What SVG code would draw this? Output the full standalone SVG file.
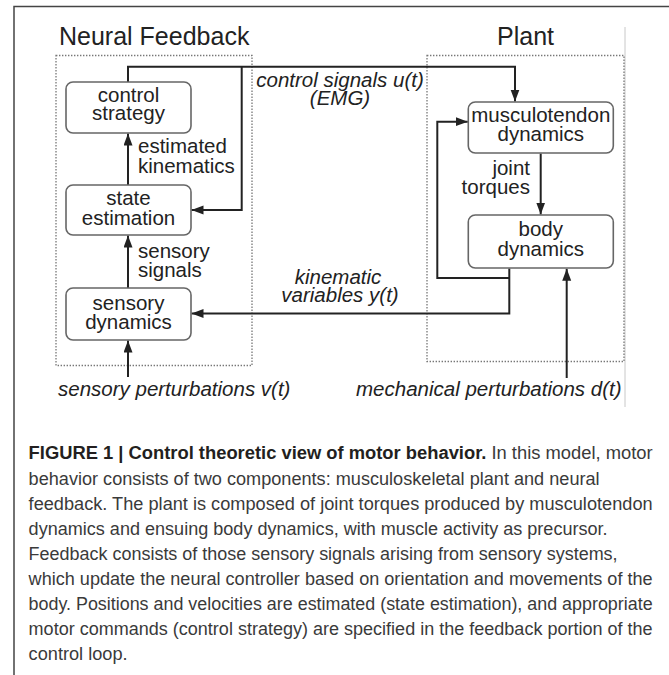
<svg xmlns="http://www.w3.org/2000/svg" width="669" height="675" viewBox="0 0 669 675">
  <style>
    .lbl { font-family: "Liberation Sans", Arial, Helvetica, sans-serif; font-size: 20.5px; fill: #222; }
    .c { text-anchor: middle; }
    .it { font-style: italic; }
    .title { font-family: "Liberation Sans", Arial, Helvetica, sans-serif; font-size: 25px; fill: #222; }
    .box { fill: #fff; stroke: #666; stroke-width: 1.6; }
    .dot { fill: none; stroke: #777; stroke-width: 1.3; stroke-dasharray: 1.4 1.6; }
    .wire { fill: none; stroke: #222; stroke-width: 2; }
    .cap { font-family: "Liberation Sans", Arial, Helvetica, sans-serif; font-size: 17.5px; fill: #3a3a3a; }
    .capb { font-weight: bold; fill: #231f20; }
  </style>
  <defs>
    <marker id="ah" markerUnits="userSpaceOnUse" markerWidth="13" markerHeight="10" refX="12" refY="4.5" orient="auto">
      <path d="M0,0 L12,4.5 L0,9 z" fill="#222"/>
    </marker>
  </defs>
  <rect x="0" y="0" width="669" height="675" fill="#fff"/>
  <g id="frame">
    <path d="M669,6.5 H14 V675" fill="none" stroke="#444" stroke-width="1.5"/>
    <line x1="625" y1="27" x2="625" y2="407" stroke="#c8c8c8" stroke-width="1"/>
  </g>
  <g id="group-neural">
    <rect class="dot" x="56" y="55.5" width="196" height="310"/>
    <text class="title" x="59" y="45">Neural Feedback</text>
  </g>
  <g id="group-plant">
    <rect class="dot" x="427" y="55.5" width="197" height="306"/>
    <text class="title" x="497" y="45">Plant</text>
  </g>
  <g id="connectors">
    <path class="wire" d="M128,82 V66.7 H515 V101.5" marker-end="url(#ah)"/>
    <path class="wire" d="M241.7,66.7 V210 H191.5" marker-end="url(#ah)"/>
    <path class="wire" d="M128,185 V133.5" marker-end="url(#ah)"/>
    <path class="wire" d="M128,288 V235.5" marker-end="url(#ah)"/>
    <path class="wire" d="M128,377 V340.5" marker-end="url(#ah)"/>
    <path class="wire" d="M540.7,153.5 V214.5" marker-end="url(#ah)"/>
    <path class="wire" d="M509.3,268.5 V313.5 H191.5" marker-end="url(#ah)"/>
    <path class="wire" d="M509.3,278 H437.3 V121.7 H467.8" marker-end="url(#ah)"/>
    <path class="wire" d="M566.7,378 V268.8" marker-end="url(#ah)"/>
  </g>
  <g id="edge-labels">
    <text class="lbl" x="138" y="153">estimated</text>
    <text class="lbl" x="138" y="173">kinematics</text>
    <text class="lbl" x="138" y="258">sensory</text>
    <text class="lbl" x="138" y="277">signals</text>
    <text class="lbl" x="530" y="175" text-anchor="end">joint</text>
    <text class="lbl" x="530" y="193.5" text-anchor="end">torques</text>
    <text class="lbl it c" x="340" y="86.7">control signals u(t)</text>
    <text class="lbl it c" x="340" y="105">(EMG)</text>
    <text class="lbl it c" x="338" y="283.5">kinematic</text>
    <text class="lbl it c" x="340" y="302">variables y(t)</text>
    <text class="lbl it" x="58" y="396">sensory perturbations v(t)</text>
    <text class="lbl it" x="356" y="396">mechanical perturbations d(t)</text>
  </g>
  <g id="node-control-strategy">
    <rect class="box" x="66" y="82" width="125" height="51" rx="7"/>
    <text class="lbl c" x="128.5" y="101.7">control</text>
    <text class="lbl c" x="128.5" y="120">strategy</text>
  </g>
  <g id="node-state-estimation">
    <rect class="box" x="66" y="185" width="125" height="50" rx="7"/>
    <text class="lbl c" x="128.5" y="205">state</text>
    <text class="lbl c" x="128.5" y="225">estimation</text>
  </g>
  <g id="node-sensory-dynamics">
    <rect class="box" x="66" y="288" width="125" height="52" rx="7"/>
    <text class="lbl c" x="128.5" y="310">sensory</text>
    <text class="lbl c" x="128.5" y="328.5">dynamics</text>
  </g>
  <g id="node-musculotendon-dynamics">
    <rect class="box" x="468.3" y="102" width="145" height="51" rx="7"/>
    <text class="lbl c" x="540.8" y="122">musculotendon</text>
    <text class="lbl c" x="540.8" y="141">dynamics</text>
  </g>
  <g id="node-body-dynamics">
    <rect class="box" x="468.3" y="215" width="145" height="53" rx="7"/>
    <text class="lbl c" x="540.8" y="235.5">body</text>
    <text class="lbl c" x="540.8" y="255.5">dynamics</text>
  </g>
  <g id="caption">
    <text class="cap" x="28.6" y="459" textLength="624" lengthAdjust="spacingAndGlyphs"><tspan class="capb">FIGURE 1 | Control theoretic view of motor behavior.</tspan> In this model, motor</text>
    <text class="cap" x="28.6" y="485" textLength="571" lengthAdjust="spacingAndGlyphs">behavior consists of two components: musculoskeletal plant and neural</text>
    <text class="cap" x="28.6" y="510" textLength="624" lengthAdjust="spacingAndGlyphs">feedback. The plant is composed of joint torques produced by musculotendon</text>
    <text class="cap" x="28.6" y="535" textLength="579" lengthAdjust="spacingAndGlyphs">dynamics and ensuing body dynamics, with muscle activity as precursor.</text>
    <text class="cap" x="28.6" y="560" textLength="589" lengthAdjust="spacingAndGlyphs">Feedback consists of those sensory signals arising from sensory systems,</text>
    <text class="cap" x="28.6" y="585" textLength="624" lengthAdjust="spacingAndGlyphs">which update the neural controller based on orientation and movements of the</text>
    <text class="cap" x="28.6" y="610" textLength="624" lengthAdjust="spacingAndGlyphs">body. Positions and velocities are estimated (state estimation), and appropriate</text>
    <text class="cap" x="28.6" y="635" textLength="624" lengthAdjust="spacingAndGlyphs">motor commands (control strategy) are specified in the feedback portion of the</text>
    <text class="cap" x="28.6" y="660" textLength="99" lengthAdjust="spacingAndGlyphs">control loop.</text>
  </g>
</svg>
